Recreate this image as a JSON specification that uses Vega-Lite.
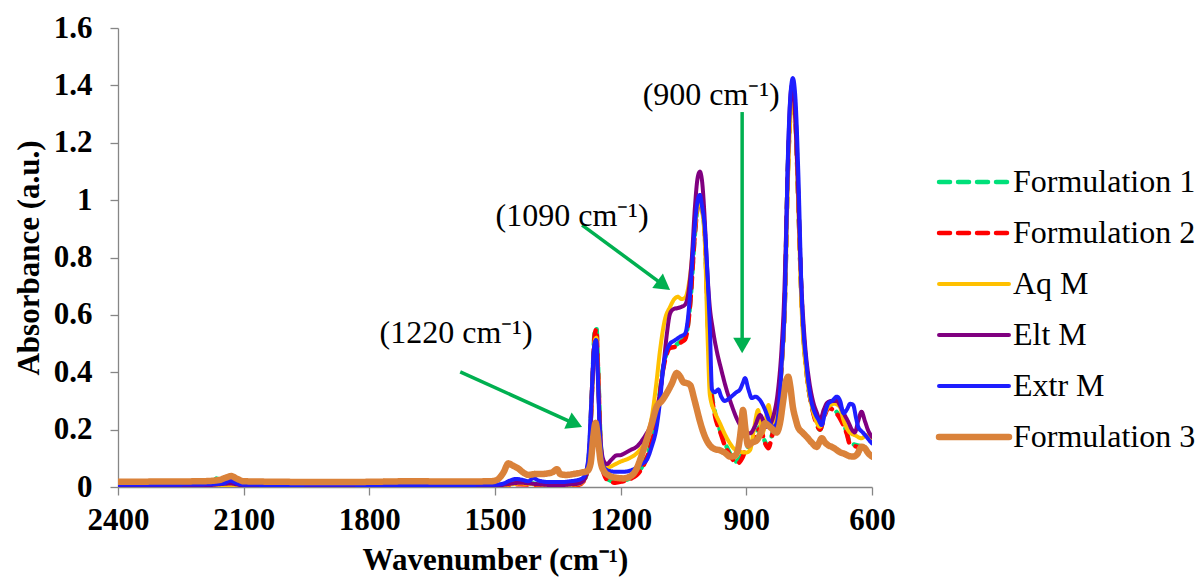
{
"$schema": "https://vega.github.io/schema/vega-lite/v6.json",
"width": 754, "height": 459,
"autosize": {"type": "none"},
"padding": {"left": 118, "top": 28, "right": 329, "bottom": 99},
"background": "white",
"config": {
  "view": {"stroke": null},
  "font": "Times New Roman, Liberation Serif, serif",
  "axis": {"grid": false, "domainColor": "#868686", "tickColor": "#868686", "domainWidth": 1.3, "tickWidth": 1.3,
    "labelFont": "Times New Roman, Liberation Serif, serif", "labelFontSize": 31, "labelFontWeight": "bold", "labelColor": "black",
    "titleFont": "Times New Roman, Liberation Serif, serif", "titleFontSize": 31, "titleFontWeight": "bold", "titleColor": "black"},
  "legend": {"labelFont": "Times New Roman, Liberation Serif, serif"},
  "text": {"font": "Times New Roman, Liberation Serif, serif"}
},
"encoding": {
  "x": {"field": "w", "type": "quantitative", "scale": {"domain": [600, 2400], "reverse": true, "nice": false, "zero": false},
    "axis": {"values": [2400, 2100, 1800, 1500, 1200, 900, 600], "format": "d", "title": "Wavenumber (cm⁻¹)", "labelFlush": false, "labelPadding": 10, "titlePadding": 10, "tickSize": 8}},
  "y": {"field": "a", "type": "quantitative", "scale": {"domain": [0, 1.6], "nice": false, "zero": false},
    "axis": {"values": [0, 0.2, 0.4, 0.6, 0.8, 1, 1.2, 1.4, 1.6], "format": ".1~f", "title": "Absorbance (a.u.)", "labelFlush": false, "labelPadding": 18, "titlePadding": 8, "tickSize": 8}}
},
"layer": [
{
  "data": {"values": [
{"s":"Formulation 1","w":2400,"a":0.004},{"s":"Formulation 1","w":2300,"a":0.005},{"s":"Formulation 1","w":2200,"a":0.006},{"s":"Formulation 1","w":2175,"a":0.012},{"s":"Formulation 1","w":2165,"a":0.03},{"s":"Formulation 1","w":2150,"a":0.015},{"s":"Formulation 1","w":2130,"a":0.008},{"s":"Formulation 1","w":2100,"a":0.004},{"s":"Formulation 1","w":2000,"a":0.004},{"s":"Formulation 1","w":1900,"a":0.003},{"s":"Formulation 1","w":1800,"a":0.004},{"s":"Formulation 1","w":1700,"a":0.004},{"s":"Formulation 1","w":1600,"a":0.004},{"s":"Formulation 1","w":1500,"a":0.005},{"s":"Formulation 1","w":1470,"a":0.01},{"s":"Formulation 1","w":1440,"a":0.014},{"s":"Formulation 1","w":1410,"a":0.012},{"s":"Formulation 1","w":1380,"a":0.008},{"s":"Formulation 1","w":1350,"a":0.008},{"s":"Formulation 1","w":1320,"a":0.01},{"s":"Formulation 1","w":1300,"a":0.012},{"s":"Formulation 1","w":1285,"a":0.03},{"s":"Formulation 1","w":1275,"a":0.12},{"s":"Formulation 1","w":1268,"a":0.35},{"s":"Formulation 1","w":1262,"a":0.54},{"s":"Formulation 1","w":1258,"a":0.555},{"s":"Formulation 1","w":1254,"a":0.42},{"s":"Formulation 1","w":1248,"a":0.16},{"s":"Formulation 1","w":1240,"a":0.05},{"s":"Formulation 1","w":1228,"a":0.025},{"s":"Formulation 1","w":1213,"a":0.018},{"s":"Formulation 1","w":1195,"a":0.022},{"s":"Formulation 1","w":1177,"a":0.031},{"s":"Formulation 1","w":1154,"a":0.059},{"s":"Formulation 1","w":1130,"a":0.14},{"s":"Formulation 1","w":1114,"a":0.245},{"s":"Formulation 1","w":1098,"a":0.42},{"s":"Formulation 1","w":1082,"a":0.49},{"s":"Formulation 1","w":1066,"a":0.497},{"s":"Formulation 1","w":1055,"a":0.51},{"s":"Formulation 1","w":1046,"a":0.52},{"s":"Formulation 1","w":1034,"a":0.64},{"s":"Formulation 1","w":1023,"a":0.88},{"s":"Formulation 1","w":1016,"a":0.98},{"s":"Formulation 1","w":1011,"a":1.0},{"s":"Formulation 1","w":1005,"a":0.97},{"s":"Formulation 1","w":999,"a":0.88},{"s":"Formulation 1","w":991,"a":0.55},{"s":"Formulation 1","w":985,"a":0.37},{"s":"Formulation 1","w":975,"a":0.26},{"s":"Formulation 1","w":963,"a":0.199},{"s":"Formulation 1","w":950,"a":0.15},{"s":"Formulation 1","w":939,"a":0.117},{"s":"Formulation 1","w":928,"a":0.088},{"s":"Formulation 1","w":918,"a":0.095},{"s":"Formulation 1","w":903,"a":0.129},{"s":"Formulation 1","w":890,"a":0.15},{"s":"Formulation 1","w":880,"a":0.175},{"s":"Formulation 1","w":867,"a":0.21},{"s":"Formulation 1","w":856,"a":0.16},{"s":"Formulation 1","w":848,"a":0.14},{"s":"Formulation 1","w":840,"a":0.175},{"s":"Formulation 1","w":828,"a":0.25},{"s":"Formulation 1","w":816,"a":0.42},{"s":"Formulation 1","w":808,"a":0.65},{"s":"Formulation 1","w":801,"a":1.1},{"s":"Formulation 1","w":795,"a":1.3},{"s":"Formulation 1","w":789,"a":1.38},{"s":"Formulation 1","w":783,"a":1.3},{"s":"Formulation 1","w":776,"a":1.0},{"s":"Formulation 1","w":768,"a":0.65},{"s":"Formulation 1","w":756,"a":0.4},{"s":"Formulation 1","w":745,"a":0.29},{"s":"Formulation 1","w":736,"a":0.24},{"s":"Formulation 1","w":724,"a":0.2},{"s":"Formulation 1","w":714,"a":0.25},{"s":"Formulation 1","w":704,"a":0.279},{"s":"Formulation 1","w":690,"a":0.27},{"s":"Formulation 1","w":675,"a":0.24},{"s":"Formulation 1","w":660,"a":0.19},{"s":"Formulation 1","w":653,"a":0.155},{"s":"Formulation 1","w":635,"a":0.145},{"s":"Formulation 1","w":620,"a":0.14},{"s":"Formulation 1","w":600,"a":0.13},
{"s":"Formulation 2","w":2400,"a":0.001},{"s":"Formulation 2","w":2300,"a":0.001},{"s":"Formulation 2","w":2200,"a":0.001},{"s":"Formulation 2","w":2130,"a":0.004},{"s":"Formulation 2","w":2100,"a":0.0},{"s":"Formulation 2","w":2000,"a":0.001},{"s":"Formulation 2","w":1900,"a":0.0},{"s":"Formulation 2","w":1800,"a":0.0},{"s":"Formulation 2","w":1700,"a":0.001},{"s":"Formulation 2","w":1600,"a":0.001},{"s":"Formulation 2","w":1500,"a":0.001},{"s":"Formulation 2","w":1470,"a":0.006},{"s":"Formulation 2","w":1440,"a":0.01},{"s":"Formulation 2","w":1410,"a":0.008},{"s":"Formulation 2","w":1380,"a":0.004},{"s":"Formulation 2","w":1350,"a":0.003},{"s":"Formulation 2","w":1320,"a":0.006},{"s":"Formulation 2","w":1300,"a":0.008},{"s":"Formulation 2","w":1285,"a":0.028},{"s":"Formulation 2","w":1275,"a":0.12},{"s":"Formulation 2","w":1268,"a":0.35},{"s":"Formulation 2","w":1262,"a":0.53},{"s":"Formulation 2","w":1258,"a":0.55},{"s":"Formulation 2","w":1254,"a":0.41},{"s":"Formulation 2","w":1248,"a":0.15},{"s":"Formulation 2","w":1240,"a":0.045},{"s":"Formulation 2","w":1228,"a":0.02},{"s":"Formulation 2","w":1213,"a":0.015},{"s":"Formulation 2","w":1195,"a":0.02},{"s":"Formulation 2","w":1177,"a":0.028},{"s":"Formulation 2","w":1154,"a":0.055},{"s":"Formulation 2","w":1130,"a":0.135},{"s":"Formulation 2","w":1114,"a":0.24},{"s":"Formulation 2","w":1098,"a":0.415},{"s":"Formulation 2","w":1082,"a":0.485},{"s":"Formulation 2","w":1066,"a":0.49},{"s":"Formulation 2","w":1055,"a":0.505},{"s":"Formulation 2","w":1046,"a":0.515},{"s":"Formulation 2","w":1034,"a":0.64},{"s":"Formulation 2","w":1023,"a":0.88},{"s":"Formulation 2","w":1016,"a":0.98},{"s":"Formulation 2","w":1011,"a":1.0},{"s":"Formulation 2","w":1005,"a":0.97},{"s":"Formulation 2","w":999,"a":0.88},{"s":"Formulation 2","w":991,"a":0.55},{"s":"Formulation 2","w":985,"a":0.36},{"s":"Formulation 2","w":975,"a":0.25},{"s":"Formulation 2","w":963,"a":0.195},{"s":"Formulation 2","w":950,"a":0.14},{"s":"Formulation 2","w":939,"a":0.11},{"s":"Formulation 2","w":928,"a":0.088},{"s":"Formulation 2","w":920,"a":0.083},{"s":"Formulation 2","w":910,"a":0.1},{"s":"Formulation 2","w":903,"a":0.125},{"s":"Formulation 2","w":890,"a":0.15},{"s":"Formulation 2","w":880,"a":0.17},{"s":"Formulation 2","w":867,"a":0.205},{"s":"Formulation 2","w":856,"a":0.155},{"s":"Formulation 2","w":847,"a":0.135},{"s":"Formulation 2","w":840,"a":0.17},{"s":"Formulation 2","w":828,"a":0.25},{"s":"Formulation 2","w":816,"a":0.42},{"s":"Formulation 2","w":808,"a":0.65},{"s":"Formulation 2","w":801,"a":1.1},{"s":"Formulation 2","w":795,"a":1.3},{"s":"Formulation 2","w":789,"a":1.38},{"s":"Formulation 2","w":783,"a":1.3},{"s":"Formulation 2","w":776,"a":1.0},{"s":"Formulation 2","w":768,"a":0.65},{"s":"Formulation 2","w":756,"a":0.4},{"s":"Formulation 2","w":745,"a":0.29},{"s":"Formulation 2","w":736,"a":0.235},{"s":"Formulation 2","w":724,"a":0.2},{"s":"Formulation 2","w":714,"a":0.245},{"s":"Formulation 2","w":704,"a":0.275},{"s":"Formulation 2","w":690,"a":0.265},{"s":"Formulation 2","w":675,"a":0.235},{"s":"Formulation 2","w":660,"a":0.185},{"s":"Formulation 2","w":653,"a":0.15},{"s":"Formulation 2","w":635,"a":0.14},{"s":"Formulation 2","w":620,"a":0.135},{"s":"Formulation 2","w":600,"a":0.125},
{"s":"Aq M","w":2400,"a":0.003},{"s":"Aq M","w":2300,"a":0.003},{"s":"Aq M","w":2200,"a":0.004},{"s":"Aq M","w":2100,"a":0.003},{"s":"Aq M","w":2000,"a":0.003},{"s":"Aq M","w":1900,"a":0.002},{"s":"Aq M","w":1800,"a":0.003},{"s":"Aq M","w":1700,"a":0.003},{"s":"Aq M","w":1600,"a":0.003},{"s":"Aq M","w":1500,"a":0.004},{"s":"Aq M","w":1470,"a":0.008},{"s":"Aq M","w":1440,"a":0.012},{"s":"Aq M","w":1400,"a":0.009},{"s":"Aq M","w":1350,"a":0.006},{"s":"Aq M","w":1320,"a":0.008},{"s":"Aq M","w":1300,"a":0.01},{"s":"Aq M","w":1285,"a":0.03},{"s":"Aq M","w":1275,"a":0.12},{"s":"Aq M","w":1268,"a":0.34},{"s":"Aq M","w":1262,"a":0.51},{"s":"Aq M","w":1258,"a":0.52},{"s":"Aq M","w":1254,"a":0.39},{"s":"Aq M","w":1248,"a":0.15},{"s":"Aq M","w":1240,"a":0.075},{"s":"Aq M","w":1228,"a":0.07},{"s":"Aq M","w":1215,"a":0.078},{"s":"Aq M","w":1201,"a":0.088},{"s":"Aq M","w":1180,"a":0.1},{"s":"Aq M","w":1160,"a":0.12},{"s":"Aq M","w":1140,"a":0.165},{"s":"Aq M","w":1125,"a":0.25},{"s":"Aq M","w":1115,"a":0.36},{"s":"Aq M","w":1106,"a":0.477},{"s":"Aq M","w":1095,"a":0.58},{"s":"Aq M","w":1082,"a":0.628},{"s":"Aq M","w":1072,"a":0.655},{"s":"Aq M","w":1063,"a":0.663},{"s":"Aq M","w":1055,"a":0.655},{"s":"Aq M","w":1046,"a":0.66},{"s":"Aq M","w":1034,"a":0.74},{"s":"Aq M","w":1023,"a":0.9},{"s":"Aq M","w":1016,"a":0.98},{"s":"Aq M","w":1011,"a":1.0},{"s":"Aq M","w":1005,"a":0.96},{"s":"Aq M","w":999,"a":0.85},{"s":"Aq M","w":992,"a":0.5},{"s":"Aq M","w":987,"a":0.32},{"s":"Aq M","w":975,"a":0.26},{"s":"Aq M","w":963,"a":0.222},{"s":"Aq M","w":950,"a":0.18},{"s":"Aq M","w":939,"a":0.152},{"s":"Aq M","w":927,"a":0.13},{"s":"Aq M","w":915,"a":0.123},{"s":"Aq M","w":900,"a":0.12},{"s":"Aq M","w":891,"a":0.129},{"s":"Aq M","w":882,"a":0.2},{"s":"Aq M","w":872,"a":0.268},{"s":"Aq M","w":862,"a":0.187},{"s":"Aq M","w":855,"a":0.22},{"s":"Aq M","w":847,"a":0.286},{"s":"Aq M","w":838,"a":0.21},{"s":"Aq M","w":828,"a":0.25},{"s":"Aq M","w":816,"a":0.42},{"s":"Aq M","w":808,"a":0.63},{"s":"Aq M","w":801,"a":1.05},{"s":"Aq M","w":795,"a":1.28},{"s":"Aq M","w":789,"a":1.35},{"s":"Aq M","w":783,"a":1.28},{"s":"Aq M","w":776,"a":0.98},{"s":"Aq M","w":768,"a":0.62},{"s":"Aq M","w":756,"a":0.39},{"s":"Aq M","w":745,"a":0.29},{"s":"Aq M","w":736,"a":0.24},{"s":"Aq M","w":724,"a":0.21},{"s":"Aq M","w":714,"a":0.25},{"s":"Aq M","w":704,"a":0.28},{"s":"Aq M","w":690,"a":0.29},{"s":"Aq M","w":677,"a":0.28},{"s":"Aq M","w":668,"a":0.233},{"s":"Aq M","w":653,"a":0.19},{"s":"Aq M","w":640,"a":0.18},{"s":"Aq M","w":625,"a":0.17},{"s":"Aq M","w":613,"a":0.18},{"s":"Aq M","w":600,"a":0.16},
{"s":"Elt M","w":2400,"a":0.004},{"s":"Elt M","w":2300,"a":0.004},{"s":"Elt M","w":2200,"a":0.005},{"s":"Elt M","w":2130,"a":0.012},{"s":"Elt M","w":2100,"a":0.005},{"s":"Elt M","w":2000,"a":0.004},{"s":"Elt M","w":1900,"a":0.001},{"s":"Elt M","w":1800,"a":0.003},{"s":"Elt M","w":1700,"a":0.004},{"s":"Elt M","w":1600,"a":0.003},{"s":"Elt M","w":1500,"a":0.004},{"s":"Elt M","w":1470,"a":0.01},{"s":"Elt M","w":1440,"a":0.015},{"s":"Elt M","w":1400,"a":0.01},{"s":"Elt M","w":1350,"a":0.006},{"s":"Elt M","w":1320,"a":0.009},{"s":"Elt M","w":1300,"a":0.012},{"s":"Elt M","w":1285,"a":0.03},{"s":"Elt M","w":1275,"a":0.12},{"s":"Elt M","w":1268,"a":0.34},{"s":"Elt M","w":1262,"a":0.5},{"s":"Elt M","w":1258,"a":0.51},{"s":"Elt M","w":1254,"a":0.38},{"s":"Elt M","w":1248,"a":0.16},{"s":"Elt M","w":1240,"a":0.09},{"s":"Elt M","w":1233,"a":0.08},{"s":"Elt M","w":1222,"a":0.095},{"s":"Elt M","w":1210,"a":0.11},{"s":"Elt M","w":1201,"a":0.111},{"s":"Elt M","w":1190,"a":0.118},{"s":"Elt M","w":1175,"a":0.13},{"s":"Elt M","w":1162,"a":0.14},{"s":"Elt M","w":1150,"a":0.16},{"s":"Elt M","w":1138,"a":0.187},{"s":"Elt M","w":1125,"a":0.22},{"s":"Elt M","w":1114,"a":0.268},{"s":"Elt M","w":1106,"a":0.33},{"s":"Elt M","w":1098,"a":0.42},{"s":"Elt M","w":1090,"a":0.53},{"s":"Elt M","w":1082,"a":0.605},{"s":"Elt M","w":1074,"a":0.62},{"s":"Elt M","w":1066,"a":0.623},{"s":"Elt M","w":1055,"a":0.628},{"s":"Elt M","w":1046,"a":0.636},{"s":"Elt M","w":1038,"a":0.68},{"s":"Elt M","w":1030,"a":0.8},{"s":"Elt M","w":1023,"a":0.97},{"s":"Elt M","w":1016,"a":1.08},{"s":"Elt M","w":1011,"a":1.099},{"s":"Elt M","w":1006,"a":1.07},{"s":"Elt M","w":1000,"a":0.95},{"s":"Elt M","w":995,"a":0.8},{"s":"Elt M","w":988,"a":0.64},{"s":"Elt M","w":980,"a":0.55},{"s":"Elt M","w":971,"a":0.477},{"s":"Elt M","w":960,"a":0.41},{"s":"Elt M","w":947,"a":0.338},{"s":"Elt M","w":935,"a":0.285},{"s":"Elt M","w":923,"a":0.239},{"s":"Elt M","w":910,"a":0.205},{"s":"Elt M","w":898,"a":0.19},{"s":"Elt M","w":891,"a":0.187},{"s":"Elt M","w":880,"a":0.21},{"s":"Elt M","w":867,"a":0.251},{"s":"Elt M","w":858,"a":0.225},{"s":"Elt M","w":852,"a":0.21},{"s":"Elt M","w":845,"a":0.215},{"s":"Elt M","w":835,"a":0.25},{"s":"Elt M","w":825,"a":0.33},{"s":"Elt M","w":816,"a":0.48},{"s":"Elt M","w":810,"a":0.65},{"s":"Elt M","w":803,"a":1.0},{"s":"Elt M","w":797,"a":1.3},{"s":"Elt M","w":791,"a":1.4},{"s":"Elt M","w":785,"a":1.33},{"s":"Elt M","w":778,"a":1.1},{"s":"Elt M","w":770,"a":0.75},{"s":"Elt M","w":760,"a":0.5},{"s":"Elt M","w":750,"a":0.37},{"s":"Elt M","w":741,"a":0.3},{"s":"Elt M","w":732,"a":0.26},{"s":"Elt M","w":724,"a":0.233},{"s":"Elt M","w":715,"a":0.27},{"s":"Elt M","w":706,"a":0.295},{"s":"Elt M","w":695,"a":0.3},{"s":"Elt M","w":684,"a":0.3},{"s":"Elt M","w":675,"a":0.28},{"s":"Elt M","w":665,"a":0.25},{"s":"Elt M","w":657,"a":0.228},{"s":"Elt M","w":648,"a":0.2},{"s":"Elt M","w":641,"a":0.19},{"s":"Elt M","w":633,"a":0.23},{"s":"Elt M","w":625,"a":0.262},{"s":"Elt M","w":617,"a":0.23},{"s":"Elt M","w":610,"a":0.2},{"s":"Elt M","w":600,"a":0.175},
{"s":"Extr M","w":2400,"a":0.008},{"s":"Extr M","w":2300,"a":0.008},{"s":"Extr M","w":2200,"a":0.009},{"s":"Extr M","w":2150,"a":0.012},{"s":"Extr M","w":2132,"a":0.022},{"s":"Extr M","w":2115,"a":0.012},{"s":"Extr M","w":2100,"a":0.008},{"s":"Extr M","w":2000,"a":0.007},{"s":"Extr M","w":1900,"a":0.008},{"s":"Extr M","w":1800,"a":0.007},{"s":"Extr M","w":1700,"a":0.006},{"s":"Extr M","w":1600,"a":0.007},{"s":"Extr M","w":1500,"a":0.008},{"s":"Extr M","w":1480,"a":0.012},{"s":"Extr M","w":1465,"a":0.022},{"s":"Extr M","w":1450,"a":0.028},{"s":"Extr M","w":1435,"a":0.025},{"s":"Extr M","w":1420,"a":0.02},{"s":"Extr M","w":1409,"a":0.031},{"s":"Extr M","w":1395,"a":0.022},{"s":"Extr M","w":1370,"a":0.017},{"s":"Extr M","w":1345,"a":0.017},{"s":"Extr M","w":1320,"a":0.02},{"s":"Extr M","w":1300,"a":0.025},{"s":"Extr M","w":1288,"a":0.035},{"s":"Extr M","w":1278,"a":0.09},{"s":"Extr M","w":1270,"a":0.3},{"s":"Extr M","w":1264,"a":0.48},{"s":"Extr M","w":1259,"a":0.512},{"s":"Extr M","w":1255,"a":0.4},{"s":"Extr M","w":1250,"a":0.2},{"s":"Extr M","w":1244,"a":0.09},{"s":"Extr M","w":1238,"a":0.065},{"s":"Extr M","w":1225,"a":0.055},{"s":"Extr M","w":1210,"a":0.053},{"s":"Extr M","w":1195,"a":0.053},{"s":"Extr M","w":1180,"a":0.056},{"s":"Extr M","w":1165,"a":0.065},{"s":"Extr M","w":1150,"a":0.08},{"s":"Extr M","w":1138,"a":0.094},{"s":"Extr M","w":1126,"a":0.14},{"s":"Extr M","w":1114,"a":0.21},{"s":"Extr M","w":1106,"a":0.3},{"s":"Extr M","w":1098,"a":0.42},{"s":"Extr M","w":1090,"a":0.475},{"s":"Extr M","w":1082,"a":0.5},{"s":"Extr M","w":1072,"a":0.51},{"s":"Extr M","w":1058,"a":0.524},{"s":"Extr M","w":1046,"a":0.535},{"s":"Extr M","w":1040,"a":0.58},{"s":"Extr M","w":1034,"a":0.676},{"s":"Extr M","w":1023,"a":0.907},{"s":"Extr M","w":1016,"a":1.0},{"s":"Extr M","w":1011,"a":1.018},{"s":"Extr M","w":1006,"a":0.98},{"s":"Extr M","w":999,"a":0.9},{"s":"Extr M","w":993,"a":0.75},{"s":"Extr M","w":987,"a":0.55},{"s":"Extr M","w":982,"a":0.34},{"s":"Extr M","w":975,"a":0.33},{"s":"Extr M","w":967,"a":0.34},{"s":"Extr M","w":960,"a":0.315},{"s":"Extr M","w":952,"a":0.3},{"s":"Extr M","w":940,"a":0.31},{"s":"Extr M","w":932,"a":0.32},{"s":"Extr M","w":924,"a":0.33},{"s":"Extr M","w":915,"a":0.34},{"s":"Extr M","w":909,"a":0.36},{"s":"Extr M","w":903,"a":0.379},{"s":"Extr M","w":895,"a":0.34},{"s":"Extr M","w":887,"a":0.31},{"s":"Extr M","w":878,"a":0.315},{"s":"Extr M","w":872,"a":0.31},{"s":"Extr M","w":862,"a":0.29},{"s":"Extr M","w":855,"a":0.268},{"s":"Extr M","w":848,"a":0.24},{"s":"Extr M","w":844,"a":0.222},{"s":"Extr M","w":836,"a":0.21},{"s":"Extr M","w":828,"a":0.22},{"s":"Extr M","w":820,"a":0.32},{"s":"Extr M","w":816,"a":0.42},{"s":"Extr M","w":808,"a":0.652},{"s":"Extr M","w":801,"a":1.14},{"s":"Extr M","w":795,"a":1.36},{"s":"Extr M","w":789,"a":1.425},{"s":"Extr M","w":783,"a":1.36},{"s":"Extr M","w":776,"a":1.1},{"s":"Extr M","w":768,"a":0.676},{"s":"Extr M","w":756,"a":0.42},{"s":"Extr M","w":745,"a":0.3},{"s":"Extr M","w":736,"a":0.257},{"s":"Extr M","w":728,"a":0.235},{"s":"Extr M","w":720,"a":0.216},{"s":"Extr M","w":712,"a":0.26},{"s":"Extr M","w":704,"a":0.292},{"s":"Extr M","w":695,"a":0.3},{"s":"Extr M","w":684,"a":0.315},{"s":"Extr M","w":676,"a":0.3},{"s":"Extr M","w":668,"a":0.257},{"s":"Extr M","w":660,"a":0.27},{"s":"Extr M","w":652,"a":0.29},{"s":"Extr M","w":645,"a":0.286},{"s":"Extr M","w":638,"a":0.24},{"s":"Extr M","w":633,"a":0.21},{"s":"Extr M","w":622,"a":0.19},{"s":"Extr M","w":613,"a":0.175},{"s":"Extr M","w":605,"a":0.16},{"s":"Extr M","w":600,"a":0.152},
{"s":"Formulation 3","w":2400,"a":0.018},{"s":"Formulation 3","w":2300,"a":0.019},{"s":"Formulation 3","w":2200,"a":0.02},{"s":"Formulation 3","w":2160,"a":0.024},{"s":"Formulation 3","w":2140,"a":0.034},{"s":"Formulation 3","w":2130,"a":0.038},{"s":"Formulation 3","w":2115,"a":0.028},{"s":"Formulation 3","w":2100,"a":0.02},{"s":"Formulation 3","w":2000,"a":0.018},{"s":"Formulation 3","w":1900,"a":0.017},{"s":"Formulation 3","w":1800,"a":0.018},{"s":"Formulation 3","w":1700,"a":0.02},{"s":"Formulation 3","w":1600,"a":0.019},{"s":"Formulation 3","w":1510,"a":0.02},{"s":"Formulation 3","w":1495,"a":0.025},{"s":"Formulation 3","w":1480,"a":0.05},{"s":"Formulation 3","w":1468,"a":0.082},{"s":"Formulation 3","w":1458,"a":0.075},{"s":"Formulation 3","w":1445,"a":0.065},{"s":"Formulation 3","w":1432,"a":0.05},{"s":"Formulation 3","w":1420,"a":0.042},{"s":"Formulation 3","w":1405,"a":0.045},{"s":"Formulation 3","w":1390,"a":0.045},{"s":"Formulation 3","w":1376,"a":0.047},{"s":"Formulation 3","w":1362,"a":0.052},{"s":"Formulation 3","w":1352,"a":0.062},{"s":"Formulation 3","w":1344,"a":0.045},{"s":"Formulation 3","w":1330,"a":0.042},{"s":"Formulation 3","w":1313,"a":0.045},{"s":"Formulation 3","w":1295,"a":0.05},{"s":"Formulation 3","w":1280,"a":0.055},{"s":"Formulation 3","w":1272,"a":0.08},{"s":"Formulation 3","w":1265,"a":0.18},{"s":"Formulation 3","w":1260,"a":0.223},{"s":"Formulation 3","w":1255,"a":0.18},{"s":"Formulation 3","w":1248,"a":0.09},{"s":"Formulation 3","w":1240,"a":0.055},{"s":"Formulation 3","w":1228,"a":0.04},{"s":"Formulation 3","w":1210,"a":0.032},{"s":"Formulation 3","w":1194,"a":0.03},{"s":"Formulation 3","w":1180,"a":0.035},{"s":"Formulation 3","w":1170,"a":0.045},{"s":"Formulation 3","w":1160,"a":0.07},{"s":"Formulation 3","w":1150,"a":0.11},{"s":"Formulation 3","w":1138,"a":0.164},{"s":"Formulation 3","w":1126,"a":0.22},{"s":"Formulation 3","w":1114,"a":0.28},{"s":"Formulation 3","w":1102,"a":0.3},{"s":"Formulation 3","w":1090,"a":0.327},{"s":"Formulation 3","w":1078,"a":0.36},{"s":"Formulation 3","w":1066,"a":0.397},{"s":"Formulation 3","w":1058,"a":0.385},{"s":"Formulation 3","w":1050,"a":0.365},{"s":"Formulation 3","w":1042,"a":0.362},{"s":"Formulation 3","w":1034,"a":0.355},{"s":"Formulation 3","w":1025,"a":0.31},{"s":"Formulation 3","w":1018,"a":0.27},{"s":"Formulation 3","w":1011,"a":0.23},{"s":"Formulation 3","w":1000,"a":0.18},{"s":"Formulation 3","w":987,"a":0.145},{"s":"Formulation 3","w":975,"a":0.132},{"s":"Formulation 3","w":963,"a":0.128},{"s":"Formulation 3","w":950,"a":0.118},{"s":"Formulation 3","w":939,"a":0.106},{"s":"Formulation 3","w":928,"a":0.108},{"s":"Formulation 3","w":920,"a":0.13},{"s":"Formulation 3","w":913,"a":0.2},{"s":"Formulation 3","w":908,"a":0.268},{"s":"Formulation 3","w":902,"a":0.2},{"s":"Formulation 3","w":896,"a":0.145},{"s":"Formulation 3","w":886,"a":0.155},{"s":"Formulation 3","w":875,"a":0.163},{"s":"Formulation 3","w":865,"a":0.19},{"s":"Formulation 3","w":855,"a":0.222},{"s":"Formulation 3","w":848,"a":0.215},{"s":"Formulation 3","w":840,"a":0.205},{"s":"Formulation 3","w":828,"a":0.19},{"s":"Formulation 3","w":820,"a":0.22},{"s":"Formulation 3","w":812,"a":0.3},{"s":"Formulation 3","w":805,"a":0.37},{"s":"Formulation 3","w":800,"a":0.384},{"s":"Formulation 3","w":795,"a":0.35},{"s":"Formulation 3","w":789,"a":0.28},{"s":"Formulation 3","w":782,"a":0.235},{"s":"Formulation 3","w":777,"a":0.21},{"s":"Formulation 3","w":766,"a":0.19},{"s":"Formulation 3","w":756,"a":0.175},{"s":"Formulation 3","w":744,"a":0.155},{"s":"Formulation 3","w":732,"a":0.14},{"s":"Formulation 3","w":726,"a":0.155},{"s":"Formulation 3","w":720,"a":0.17},{"s":"Formulation 3","w":712,"a":0.155},{"s":"Formulation 3","w":704,"a":0.145},{"s":"Formulation 3","w":696,"a":0.14},{"s":"Formulation 3","w":685,"a":0.13},{"s":"Formulation 3","w":675,"a":0.12},{"s":"Formulation 3","w":668,"a":0.117},{"s":"Formulation 3","w":655,"a":0.108},{"s":"Formulation 3","w":645,"a":0.106},{"s":"Formulation 3","w":635,"a":0.115},{"s":"Formulation 3","w":625,"a":0.14},{"s":"Formulation 3","w":617,"a":0.135},{"s":"Formulation 3","w":610,"a":0.12},{"s":"Formulation 3","w":600,"a":0.106}
  ]},
  "mark": {"type": "line", "interpolate": "monotone", "strokeCap": "round", "strokeJoin": "round", "clip": true},
  "encoding": {
    "color": {"field": "s", "type": "nominal",
      "scale": {"domain": ["Formulation 1", "Formulation 2", "Aq M", "Elt M", "Extr M", "Formulation 3"], "range": ["#00E07A", "#FF0000", "#FFC000", "#800080", "#1E1EFF", "#DA823A"]},
      "legend": {"title": null, "orient": "none", "legendX": 840, "legendY": 138, "padding": 0, "symbolType": "M-3,0H3", "symbolSize": 544, "labelFont": "Times New Roman, Liberation Serif, serif", "labelFontSize": 32, "labelColor": "black", "labelLimit": 400, "rowPadding": 19, "labelOffset": 23, "encode": {"symbols": {"update": {"strokeCap": {"value": "round"}}}}}},
    "strokeDash": {"field": "s", "type": "nominal",
      "scale": {"domain": ["Formulation 1", "Formulation 2", "Aq M", "Elt M", "Extr M", "Formulation 3"], "range": [[11, 8], [11, 8], [1, 0], [1, 0], [1, 0], [1, 0]]},
      "legend": {"title": null, "orient": "none", "legendX": 840, "legendY": 138, "padding": 0, "symbolType": "M-3,0H3", "symbolSize": 544, "labelFont": "Times New Roman, Liberation Serif, serif", "labelFontSize": 32, "labelColor": "black", "labelLimit": 400, "rowPadding": 19, "labelOffset": 23, "encode": {"symbols": {"update": {"strokeCap": {"value": "round"}}}}}},
    "strokeWidth": {"field": "s", "type": "nominal",
      "scale": {"type": "ordinal", "domain": ["Formulation 1", "Formulation 2", "Aq M", "Elt M", "Extr M", "Formulation 3"], "range": [4.5, 4.5, 4, 4, 4, 6.5]},
      "legend": {"title": null, "orient": "none", "legendX": 840, "legendY": 138, "padding": 0, "symbolType": "M-3,0H3", "symbolSize": 544, "labelFont": "Times New Roman, Liberation Serif, serif", "labelFontSize": 32, "labelColor": "black", "labelLimit": 400, "rowPadding": 19, "labelOffset": 23, "encode": {"symbols": {"update": {"strokeCap": {"value": "round"}}}}}}
  }
},
{
  "data": {"values": [
    {"w": 1583, "a": 0.401, "w2": 1309, "a2": 0.2203},
    {"w": 1292, "a": 0.913, "w2": 1097, "a2": 0.703},
    {"w": 910, "a": 1.307, "w2": 910, "a2": 0.493}
  ]},
  "mark": {"type": "rule", "color": "#00B050", "strokeWidth": 3.5},
  "encoding": {"x2": {"field": "w2"}, "y2": {"field": "a2"}}
},
{
  "data": {"values": [
    {"w": 1309, "a": 0.2203, "ang": 114.3},
    {"w": 1097, "a": 0.703, "ang": 126.4},
    {"w": 910, "a": 0.493, "ang": 180}
  ]},
  "mark": {"type": "point", "shape": "triangle-up", "filled": true, "color": "#00B050", "size": 320, "opacity": 1},
  "encoding": {"angle": {"field": "ang", "type": "quantitative", "scale": null}}
},
{
  "data": {"values": [
    {"t": "(1220 cm⁻¹)", "w": 1593, "a": 0.537},
    {"t": "(1090 cm⁻¹)", "w": 1316, "a": 0.943},
    {"t": "(900 cm⁻¹)", "w": 984, "a": 1.366}
  ]},
  "mark": {"type": "text", "font": "Times New Roman, Liberation Serif, serif", "fontSize": 32, "color": "black", "align": "center", "baseline": "middle"},
  "encoding": {"text": {"field": "t"}}
}
]
}
